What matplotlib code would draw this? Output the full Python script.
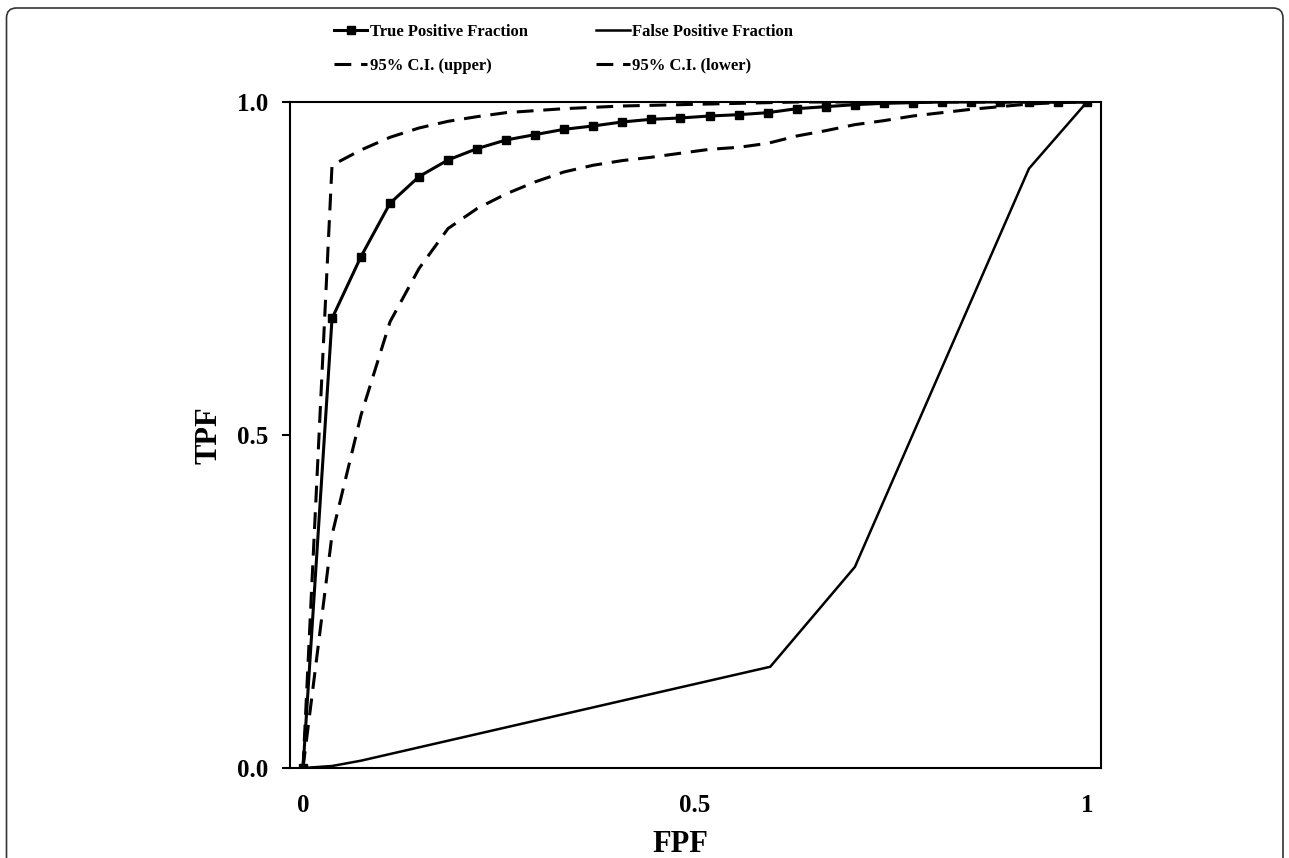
import matplotlib
matplotlib.use('Agg')
import matplotlib.pyplot as plt
from matplotlib.patches import FancyBboxPatch
from matplotlib.transforms import IdentityTransform

plt.rcParams['font.family'] = ['Liberation Serif', 'DejaVu Serif']
plt.rcParams['font.weight'] = 'bold'

# FPF thresholds shared by the TPF curve and its confidence band
fpf_x = [0.0, 0.037, 0.074, 0.111, 0.148, 0.185, 0.222, 0.259, 0.296, 0.333,
         0.370, 0.407, 0.444, 0.481, 0.519, 0.556, 0.593, 0.630, 0.667, 0.704,
         0.741, 0.778, 0.815, 0.852, 0.889, 0.926, 0.963, 1.0]

tpf = [0.0, 0.675, 0.768, 0.848, 0.888, 0.913, 0.930, 0.943, 0.951, 0.959,
       0.964, 0.970, 0.974, 0.976, 0.979, 0.981, 0.984, 0.990, 0.993, 0.996,
       0.998, 0.999, 1.0, 1.0, 1.0, 1.0, 1.0, 1.0]

ci_upper = [0.0, 0.905, 0.928, 0.947, 0.961, 0.971, 0.978, 0.984, 0.987, 0.990,
            0.992, 0.994, 0.995, 0.996, 0.997, 0.998, 0.999, 1.0, 1.0, 1.0,
            1.0, 1.0, 1.0, 1.0, 1.0, 1.0, 1.0, 1.0]

ci_lower = [0.0, 0.35, 0.53, 0.67, 0.75, 0.81, 0.84, 0.862, 0.880, 0.895,
            0.905, 0.912, 0.917, 0.923, 0.929, 0.932, 0.938, 0.949, 0.957, 0.966,
            0.972, 0.979, 0.984, 0.989, 0.993, 0.997, 0.999, 1.0]

# False positive fraction curve
fp_x = [0.0, 0.037, 0.074, 0.148, 0.296, 0.444, 0.596, 0.704, 0.926, 1.0]
fp_y = [0.0, 0.003, 0.011, 0.031, 0.071, 0.111, 0.152, 0.302, 0.900, 1.0]

W, H = 1289, 858
fig = plt.figure(figsize=(W / 100, H / 100), dpi=100, facecolor='white')
ax = fig.add_axes([290 / W, 1 - 768 / H, 811 / W, 666 / H])

DASH = (5.5, 3.2)

h_tpf, = ax.plot(fpf_x, tpf, color='black', lw=2.2, marker='s', markersize=6,
                 label='True Positive Fraction', zorder=4)
h_up, = ax.plot(fpf_x, ci_upper, color='black', lw=2.2, dashes=DASH,
                label='95% C.I. (upper)', zorder=3)
h_fp, = ax.plot(fp_x, fp_y, color='black', lw=1.8,
                label='False Positive Fraction', zorder=3)
h_lo, = ax.plot(fpf_x, ci_lower, color='black', lw=2.2, dashes=DASH,
                label='95% C.I. (lower)', zorder=3)

ax.set_xlim(-0.0166, 1.0179)
ax.set_ylim(0, 1)
ax.set_xticks([0, 0.5, 1])
ax.set_xticklabels(['0', '0.5', '1'])
ax.set_yticks([0, 0.5, 1])
ax.set_yticklabels(['0.0', '0.5', '1.0'])
ax.tick_params(axis='x', length=0, pad=19, labelsize=18)
ax.tick_params(axis='y', direction='out', length=5.8, width=1.5, pad=10, labelsize=18)
for s in ax.spines.values():
    s.set_linewidth(1.5)

ax.set_xlabel('FPF', fontsize=22, fontweight='bold')
ax.xaxis.set_label_coords(0.481, -0.093)
ax.set_ylabel('TPF', fontsize=22, fontweight='bold')
ax.yaxis.set_label_coords(-0.082, 0.5)

fig.legend(handles=[h_tpf, h_up, h_fp, h_lo], ncol=2, frameon=False,
           loc='upper left', bbox_to_anchor=(334 / W, 1 - 24 / H),
           bbox_transform=fig.transFigure, borderpad=0, borderaxespad=0,
           handlelength=2.0, handletextpad=0.15,
           labelspacing=1.05, columnspacing=4.1, numpoints=1,
           prop={'weight': 'bold', 'size': 12})

# rounded outer frame
frame = FancyBboxPatch((6.5, -20), 1276.5, 870, boxstyle='round,pad=0,rounding_size=10',
                       transform=IdentityTransform(), facecolor='none',
                       edgecolor='#333333', lw=1.2)
fig.patches.append(frame)

fig.savefig('out.png', dpi=100, facecolor='white')
